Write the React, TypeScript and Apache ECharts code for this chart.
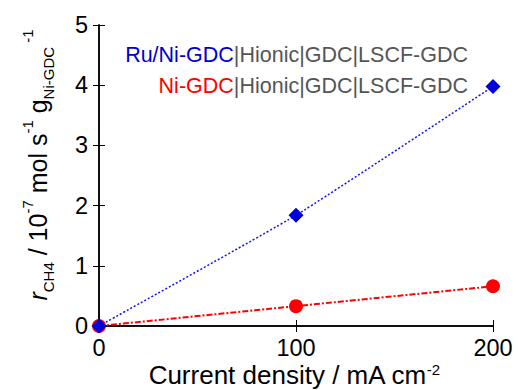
import React, { useEffect, useRef } from "react";
import * as echarts from "echarts";

const currentDensity = [0, 100, 200];
const ruNiRate = [0, 1.84, 3.98];
const niRate = [0, 0.33, 0.66];
const xTicks = [0, 100, 200];
const yTicks = [0, 1, 2, 3, 4, 5];
const legendCompositions = ["Ru/Ni-GDC", "Ni-GDC"];
const legendSuffix = "|Hionic|GDC|LSCF-GDC";
const xTitle = "Current density / mA cm";
const xTitleSup = "-2";

const FONT = "'Liberation Sans', Arial, Helvetica, sans-serif";
const BLUE = "#0000dd";
const RED = "#ff0000";
const GRAY = "#555555";

export default function App() {
  const ref = useRef<HTMLDivElement>(null);
  useEffect(() => {
    document.body.style.margin = "0";
    const chart = echarts.init(ref.current!, null, { renderer: "svg" });
    const axisLine = { show: true, lineStyle: { color: "#000", width: 1.5 } };
    const tick = { show: true, inside: true, length: 6, lineStyle: { color: "#000", width: 1 } };
    const label = { fontSize: 23.5, color: "#000", fontFamily: FONT, lineHeight: 20 };
    const xMin = xTicks[0];
    const xMax = xTicks[xTicks.length - 1];
    const xInt = xTicks[1] - xTicks[0];
    const yMin = yTicks[0];
    const yMax = yTicks[yTicks.length - 1];
    const yInt = yTicks[1] - yTicks[0];
    chart.setOption({
      animation: false,
      grid: { left: 99, right: 25, top: 25, bottom: 64 },
      xAxis: [
        { type: "value", min: xMin, max: xMax, interval: xInt, position: "bottom", axisLine, axisTick: tick, axisLabel: { ...label, margin: 11.5 }, splitLine: { show: false } },
        { type: "value", min: xMin, max: xMax, interval: xInt, position: "top", axisLine, axisTick: tick, axisLabel: { show: false }, splitLine: { show: false } },
      ],
      yAxis: [
        { type: "value", min: yMin, max: yMax, interval: yInt, position: "left", axisLine, axisTick: tick, axisLabel: { ...label, margin: 11 }, splitLine: { show: false } },
        { type: "value", min: yMin, max: yMax, interval: yInt, position: "right", axisLine, axisTick: tick, axisLabel: { show: false }, splitLine: { show: false } },
      ],
      series: [
        {
          type: "line",
          name: legendCompositions[1],
          data: currentDensity.map((x, i) => [x, niRate[i]]),
          symbol: "circle",
          symbolSize: 14,
          clip: false,
          itemStyle: { color: RED },
          lineStyle: { color: RED, width: 2, type: [6, 2, 2, 2] },
        },
        {
          type: "line",
          name: legendCompositions[0],
          data: currentDensity.map((x, i) => [x, ruNiRate[i]]),
          symbol: "diamond",
          symbolSize: 15,
          smooth: 0.15,
          clip: false,
          itemStyle: { color: BLUE },
          lineStyle: { color: "#1010ff", width: 1.5, type: [2, 2] },
        },
      ],
      graphic: [
        {
          type: "text",
          x: 468,
          y: 55,
          style: {
            text: `{c|${legendCompositions[0]}}{g|${legendSuffix}}`,
            align: "right",
            verticalAlign: "middle",
            rich: {
              c: { fill: "#0000cc", fontSize: 21.5, fontFamily: FONT },
              g: { fill: GRAY, fontSize: 21.5, fontFamily: FONT },
            },
          },
        },
        {
          type: "text",
          x: 468,
          y: 86,
          style: {
            text: `{c|${legendCompositions[1]}}{g|${legendSuffix}}`,
            align: "right",
            verticalAlign: "middle",
            rich: {
              c: { fill: RED, fontSize: 21.5, fontFamily: FONT },
              g: { fill: GRAY, fontSize: 21.5, fontFamily: FONT },
            },
          },
        },
        {
          type: "text",
          x: 294,
          y: 362,
          style: {
            text: `{n|${xTitle}}{sup|${xTitleSup}}`,
            align: "center",
            verticalAlign: "top",
            rich: {
              n: { fill: "#000", fontSize: 26, lineHeight: 26, fontFamily: FONT },
              sup: { fill: "#000", fontSize: 15, lineHeight: 8, verticalAlign: "top", fontFamily: FONT },
            },
          },
        },
        {
          type: "text",
          x: 37.5,
          y: 165,
          rotation: Math.PI / 2,
          style: {
            text: "{i|r}{sub|CH4}{n| / 10}{sup|-7}{n| mol s}{sup|-1}{n| g}{sub|Ni-GDC}{sup| -1}",
            align: "center",
            verticalAlign: "middle",
            rich: {
              i: { fill: "#000", fontSize: 25, lineHeight: 36, fontStyle: "italic", fontFamily: FONT },
              n: { fill: "#000", fontSize: 25, lineHeight: 36, fontFamily: FONT },
              sup: { fill: "#000", fontSize: 15, lineHeight: 14, verticalAlign: "top", fontFamily: FONT },
              sub: { fill: "#000", fontSize: 15, lineHeight: 10, verticalAlign: "bottom", fontFamily: FONT },
            },
          },
        },
      ],
    });
    return () => chart.dispose();
  }, []);
  return <div ref={ref} style={{ width: 518, height: 390 }} />;
}
